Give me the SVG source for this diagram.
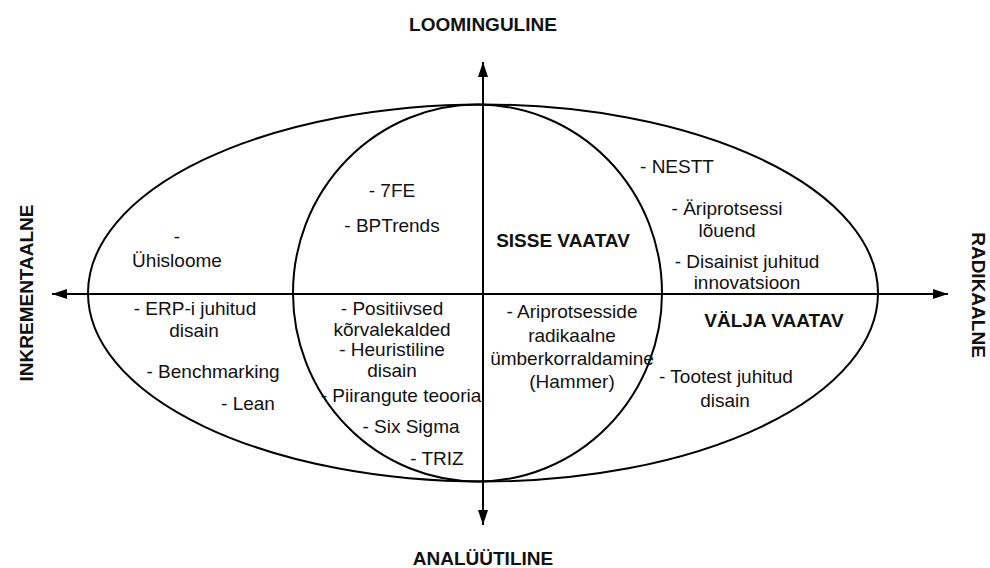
<svg xmlns="http://www.w3.org/2000/svg" width="990" height="568" viewBox="0 0 990 568">
  <style>
    .shape { fill: none; stroke: #000; stroke-width: 2; }
    .axis { fill: none; stroke: #000; stroke-width: 2; }
    .t { font-family: "Liberation Sans", Arial, sans-serif; font-size: 19px; fill: #111; text-anchor: middle; }
    .b { font-family: "Liberation Sans", Arial, sans-serif; font-size: 19px; font-weight: bold; fill: #111; text-anchor: middle; }
  </style>
  <defs>
    <marker id="arrow" viewBox="0 0 15 10" refX="15" refY="5" markerWidth="15" markerHeight="10" markerUnits="userSpaceOnUse" orient="auto">
      <path d="M0,0 L15,5 L0,10 Z" fill="#000"/>
    </marker>
  </defs>
  <rect width="990" height="568" fill="#fff"/>

  <!-- outer ellipse and inner circle -->
  <g id="outer-ellipse">
    <ellipse class="shape" cx="483" cy="293" rx="395" ry="188.5"/>
  </g>
  <g id="inner-circle">
    <ellipse class="shape" cx="477.5" cy="293" rx="184.5" ry="188.5"/>
  </g>

  <!-- axes -->
  <g id="connectors">
    <line class="axis" x1="483" y1="294" x2="483" y2="62" marker-end="url(#arrow)"/>
    <line class="axis" x1="483" y1="294" x2="483" y2="525" marker-end="url(#arrow)"/>
    <line class="axis" x1="483" y1="294" x2="52" y2="294" marker-end="url(#arrow)"/>
    <line class="axis" x1="483" y1="294" x2="948" y2="294" marker-end="url(#arrow)"/>
  </g>

  <!-- axis labels -->
  <g id="label-top"><text class="b" x="483" y="31">LOOMINGULINE</text></g>
  <g id="label-bottom"><text class="b" x="483" y="565">ANALÜÜTILINE</text></g>
  <g id="label-left"><text class="b" transform="translate(33 293) rotate(-90)" x="0" y="0">INKREMENTAALNE</text></g>
  <g id="label-right"><text class="b" transform="translate(972 295) rotate(90)" x="0" y="0">RADIKAALNE</text></g>

  <!-- quadrant titles -->
  <g id="sisse-vaatav"><text class="b" x="563" y="247">SISSE VAATAV</text></g>
  <g id="valja-vaatav"><text class="b" x="774" y="327">VÄLJA VAATAV</text></g>

  <!-- upper left -->
  <g id="uhisloome">
    <text class="t" x="177" y="243">-</text>
    <text class="t" x="177" y="267">Ühisloome</text>
  </g>
  <g id="7fe"><text class="t" x="392" y="197">- 7FE</text></g>
  <g id="bptrends"><text class="t" x="392" y="232">- BPTrends</text></g>

  <!-- upper right -->
  <g id="nestt"><text class="t" x="677" y="173">- NESTT</text></g>
  <g id="ariprotsessi-louend">
    <text class="t" x="727" y="215">- Äriprotsessi</text>
    <text class="t" x="727" y="237">lõuend</text>
  </g>
  <g id="disainist-juhitud">
    <text class="t" x="747" y="268">- Disainist juhitud</text>
    <text class="t" x="747" y="289">innovatsioon</text>
  </g>

  <!-- lower left -->
  <g id="erp">
    <text class="t" x="195" y="315">- ERP-i juhitud</text>
    <text class="t" x="194" y="337">disain</text>
  </g>
  <g id="benchmarking"><text class="t" x="213" y="378">- Benchmarking</text></g>
  <g id="lean"><text class="t" x="248" y="410">- Lean</text></g>
  <g id="positiivsed">
    <text class="t" x="392" y="315">- Positiivsed</text>
    <text class="t" x="392" y="336">kõrvalekalded</text>
  </g>
  <g id="heuristiline">
    <text class="t" x="392" y="356">- Heuristiline</text>
    <text class="t" x="392" y="377">disain</text>
  </g>
  <g id="piirangute"><text class="t" x="401" y="402">- Piirangute teooria</text></g>
  <g id="six-sigma"><text class="t" x="411" y="433">- Six Sigma</text></g>
  <g id="triz"><text class="t" x="437" y="465">- TRIZ</text></g>

  <!-- lower right -->
  <g id="hammer">
    <text class="t" x="572" y="318">- Ariprotsesside</text>
    <text class="t" x="572" y="342">radikaalne</text>
    <text class="t" x="572" y="365">ümberkorraldamine</text>
    <text class="t" x="572" y="388">(Hammer)</text>
  </g>
  <g id="tootest">
    <text class="t" x="726" y="383">- Tootest juhitud</text>
    <text class="t" x="725" y="407">disain</text>
  </g>
</svg>
